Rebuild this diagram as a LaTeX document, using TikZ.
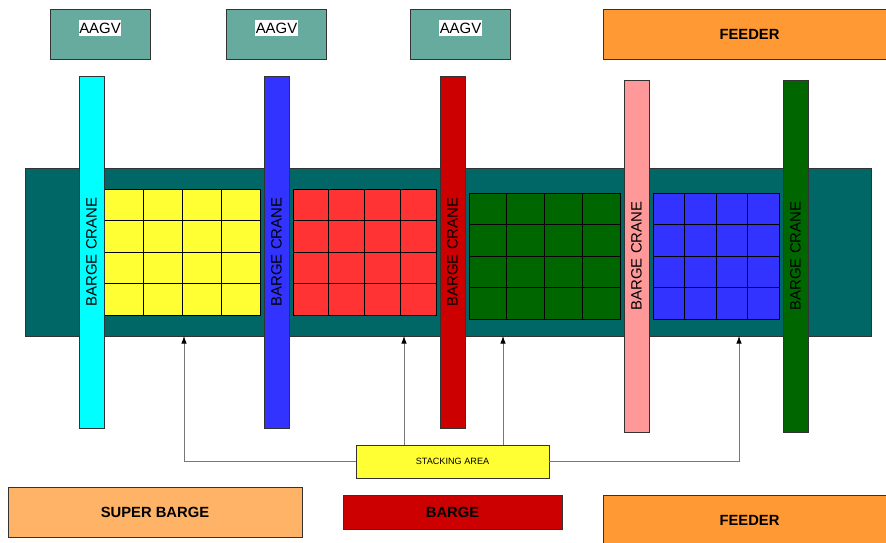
\documentclass[tikz,border=0pt]{standalone}
\usepackage{fontspec}
\setmainfont{Liberation Sans}
\usetikzlibrary{arrows.meta}
\definecolor{aagv}{HTML}{67AB9F}
\definecolor{feeder}{HTML}{FF9933}
\definecolor{superb}{HTML}{FFB366}
\definecolor{barge}{HTML}{CC0000}
\definecolor{kai}{HTML}{006666}
\definecolor{kcyan}{HTML}{00FFFF}
\definecolor{kblau}{HTML}{3333FF}
\definecolor{krot}{HTML}{CC0000}
\definecolor{krosa}{HTML}{FF9999}
\definecolor{kgruen}{HTML}{006600}
\definecolor{sgelb}{HTML}{FFFF33}
\definecolor{srot}{HTML}{FF3333}
\definecolor{rand}{HTML}{333333}
\definecolor{lgrau}{HTML}{777777}
\tikzset{
  box/.style={draw=rand,line width=0.5pt,inner sep=0pt,text=black,font=\fontsize{8.5}{10}\selectfont},
  titel/.style={box,font=\fontsize{8.4}{10}\selectfont\bfseries},
  kran/.style={box,rotate=90,minimum width=7.04cm,minimum height=0.5cm},
  tag/.style={fill=white,inner xsep=0.3pt,inner ysep=1.6pt,font=\fontsize{8.5}{10}\selectfont},
  zelle/.style={draw=black,line width=0.45pt},
  verb/.style={-{Latex[length=1.5mm,width=1.1mm,color=black]},lgrau,line width=0.5pt},
}
\begin{document}
\begin{tikzpicture}[x=0.02cm,y=-0.02cm]
  \useasboundingbox (0,0) rectangle (886,542);
  \clip (0,0) rectangle (886,542);
  % oben
  \foreach \n/\x in {a1/100,a2/276.5,a3/460.5}{
    \node[box,fill=aagv,minimum width=2cm,minimum height=1cm] (\n) at (\x,34) {};
    \node[tag] (\n t) at (\x,28) {AAGV};
  }
  \node[titel,fill=feeder,minimum width=5.86cm,minimum height=1cm] (f1) at (749.5,34) {FEEDER};
  % kai mit stapeln
  \node[box,fill=kai,minimum width=16.94cm,minimum height=3.36cm] (kai) at (448.5,252) {};
  \foreach \xa/\xb/\ya/\col in {104/260/189/sgelb,293/436/189/srot,469/620/193/kgruen,653/779/193/kblau}{
    \draw[zelle,fill=\col] (\xa,\ya) rectangle (\xb,\ya+126);
    \foreach \i in {1,2,3}{
      \draw[zelle] ({\xa+\i*(\xb-\xa)/4},\ya) -- ({\xa+\i*(\xb-\xa)/4},\ya+126);
      \draw[zelle] (\xa,\ya+\i*31.5) -- (\xb,\ya+\i*31.5);
    }
  }
  % kraene
  \node[kran,fill=kcyan] (k1) at (91.5,252) {BARGE CRANE};
  \node[kran,fill=kblau] (k2) at (276.5,252) {BARGE CRANE};
  \node[kran,fill=krot] (k3) at (452.5,252) {BARGE CRANE};
  \node[kran,fill=krosa] (k4) at (636.5,256) {BARGE CRANE};
  \node[kran,fill=kgruen] (k5) at (795.5,256) {BARGE CRANE};
  % unten
  \node[box,fill=sgelb,minimum width=3.86cm,minimum height=0.66cm,font=\fontsize{5.2}{6}\selectfont] (st) at (452.5,461.5) {STACKING AREA};
  \node[titel,fill=superb,minimum width=5.88cm,minimum height=1cm] (sb) at (155,512) {SUPER BARGE};
  \node[titel,fill=barge,minimum width=4.38cm,minimum height=0.68cm] (b) at (452.5,512) {BARGE};
  \node[titel,fill=feeder,minimum width=5.86cm,minimum height=1cm] (f2) at (749.5,520) {FEEDER};
  \coordinate (p1) at (184,336);
  \coordinate (p2) at (404,336);
  \coordinate (p3) at (503,336);
  \coordinate (p4) at (739,336);
  \draw[verb] (st.west) -| (p1);
  \draw[verb] (st.north -| p2) -- (p2);
  \draw[verb] (st.north -| p3) -- (p3);
  \draw[verb] (st.east) -| (p4);
\end{tikzpicture}
\end{document}
